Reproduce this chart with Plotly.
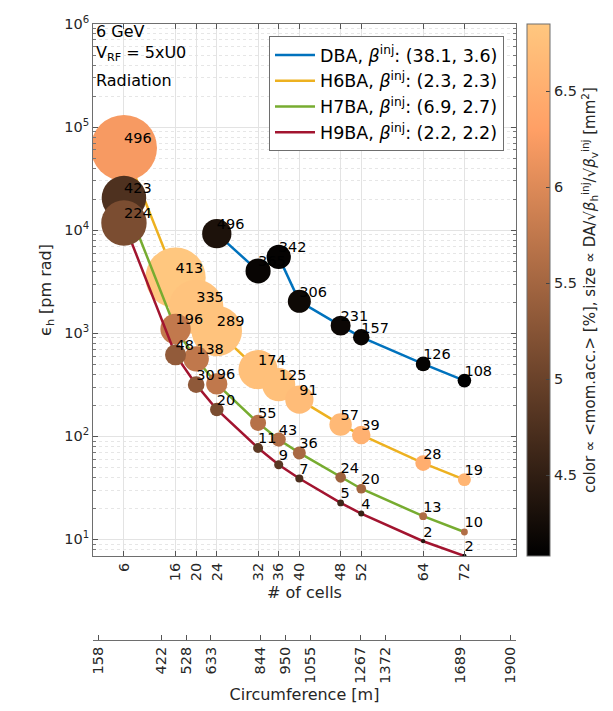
import math
import plotly.graph_objects as go

# ---------------- data ----------------
series_names = ["DBA", "H6BA", "H7BA", "H9BA"]
beta_h_inj = [38.1, 2.3, 6.9, 2.2]
beta_v_inj = [3.6, 2.3, 2.7, 2.2]
line_colors = ["#0072BD", "#EDB120", "#77AC30", "#A2142F"]

cells = [6, 16, 20, 24, 32, 36, 40, 48, 52, 64, 72]
dba_cells = [24, 32, 36, 40, 48, 52, 64, 72]

dba_emit = [9250, 4020, 5500, 2040, 1185, 915, 504, 347]
dba_da = [496, 365, 342, 306, 231, 157, 126, 108]
dba_mom = [4.33, 4.15, 4.12, 4.20, 4.18, 4.15, 4.12, 4.08]

h6_emit = [62700, 3460, 1800, 1052, 443, 317, 227, 130, 103, 55, 38]
h6_da = [496, 413, 335, 289, 174, 125, 91, 57, 39, 28, 19]
h6_mom = [6.23, 6.85, 6.80, 6.80, 6.75, 6.75, 6.70, 6.65, 6.55, 6.50, 6.60]

h7_emit = [20500, 1100, 564, 322, 135, 93, 69, 40, 31, 16.8, 11.8]
h7_da = [423, 196, 138, 96, 55, 43, 36, 24, 20, 13, 10]
h7_mom = [4.76, 5.77, 5.75, 5.75, 5.66, 5.62, 5.55, 5.45, 5.50, 5.60, 5.62]

h9_emit = [11750, 617, 317, 182, 77, 53, 39, 22.6, 17.8, 9.6, 6.9]
h9_da = [224, 48, 30, 20, 11, 9, 7, 5, 4, 2, 2]
h9_mom = [5.15, 5.35, 5.32, 5.14, 4.90, 4.85, 4.75, 4.62, 4.55, 4.40, 4.20]

cell_ticks = [6, 16, 20, 24, 32, 36, 40, 48, 52, 64, 72]
circ_ticks = [158, 422, 528, 633, 844, 950, 1055, 1267, 1372, 1689, 1900]
y_ticks = [1e1, 1e2, 1e3, 1e4, 1e5, 1e6]
y_tick_text = ["10<sup>1</sup>", "10<sup>2</sup>", "10<sup>3</sup>",
               "10<sup>4</sup>", "10<sup>5</sup>", "10<sup>6</sup>"]
cbar_ticks = [4.5, 5, 5.5, 6, 6.5]

info_lines = ["6 GeV", "V<sub>RF</sub> = 5xU0", "Radiation"]

# ---------------- figure ----------------
FONT = "DejaVu Sans"
xs = [dba_cells, cells, cells, cells]
ys = [dba_emit, h6_emit, h7_emit, h9_emit]
das = [dba_da, h6_da, h7_da, h9_da]
moms = [dba_mom, h6_mom, h7_mom, h9_mom]

all_mom = [v for m in moms for v in m]
cmin, cmax = min(all_mom), max(all_mom)

# copper colormap (MATLAB)
copper = [[0.0, "rgb(0,0,0)"], [0.8, "rgb(255,159,101)"], [1.0, "rgb(255,199,127)"]]

fig = go.Figure()
for i, name in enumerate(series_names):
    bb = math.sqrt(beta_h_inj[i] * beta_v_inj[i])
    sizes = [4.5 * math.sqrt(d / bb) for d in das[i]]
    label = f"{name}, <i>β</i><sup>inj</sup>: ({beta_h_inj[i]}, {beta_v_inj[i]})"
    fig.add_trace(go.Scatter(x=xs[i], y=ys[i], mode="lines", name=label,
                             line=dict(color=line_colors[i], width=2.5),
                             hoverinfo="skip"))
    fig.add_trace(go.Scatter(x=xs[i], y=ys[i], mode="markers", showlegend=False,
                             marker=dict(size=sizes, color=moms[i], coloraxis="coloraxis",
                                         opacity=1, line=dict(width=0))))

for i in range(4):
    fig.add_trace(go.Scatter(x=xs[i], y=[v * 1.2 for v in ys[i]], mode="text",
                             text=[str(d) for d in das[i]], textposition="middle right",
                             textfont=dict(size=14.5, color="black", family=FONT),
                             showlegend=False, hoverinfo="skip"))

# invisible trace carrying the circumference axis
fig.add_trace(go.Scatter(x=circ_ticks, y=h9_emit, xaxis="x2", mode="markers",
                         marker=dict(opacity=0), showlegend=False, hoverinfo="skip"))

L, R, T, B = 85, 105, 16, 60
W, H = 613, 711
paper_h = H - T - B
plot_bottom = 548
ydom0 = (H - B - plot_bottom) / paper_h
circ_pos = (H - B - 632) / paper_h

axis_common = dict(showline=True, linecolor="#6e6e6e", linewidth=1, mirror="ticks",
                   ticks="inside", tickcolor="#555", ticklen=5, automargin=False,
                   tickfont=dict(size=14.5, family=FONT, color="#262626"))

minor_vals = [m * 10 ** k for k in range(0, 6) for m in range(2, 10)]

fig.update_layout(
    width=W, height=H,
    margin=dict(l=L, r=R, t=T, b=B),
    paper_bgcolor="white", plot_bgcolor="white",
    font=dict(family=FONT, size=15, color="#262626"),
    xaxis=dict(range=[0, 82], tickvals=cell_ticks, ticktext=[str(c) for c in cell_ticks],
               tickangle=-90, showgrid=True, gridcolor="#e3e3e3", gridwidth=1, zeroline=False,
               title=dict(text="# of cells", font=dict(size=16), standoff=6),
               **axis_common),
    yaxis=dict(type="log", range=[math.log10(min(h9_emit)), 6], domain=[ydom0, 1],
               tickvals=y_ticks, ticktext=y_tick_text, showgrid=True, gridcolor="#e3e3e3",
               minor=dict(tickvals=minor_vals, ticks="inside", ticklen=3, tickcolor="#777",
                          showgrid=True, gridcolor="#e6e6e6", griddash="dot"),
               title=dict(text="ϵ<sub>h</sub> [pm rad]", font=dict(size=16), standoff=8),
               **axis_common),
    xaxis2=dict(overlaying="x", anchor="free", position=circ_pos, side="bottom",
                range=[134, 1925], tickvals=circ_ticks, ticktext=[str(c) for c in circ_ticks],
                tickangle=-90, showgrid=False, zeroline=False, showline=True,
                linecolor="#6e6e6e", ticks="inside", ticklen=5, tickcolor="#555",
                automargin=False, tickfont=dict(size=14.5, family=FONT, color="#262626"),
                title=dict(text="Circumference [m]", font=dict(size=16), standoff=6)),
    coloraxis=dict(colorscale=copper, cmin=cmin, cmax=cmax,
                   colorbar=dict(x=(519 - L) / (W - L - R), xanchor="left", xpad=0, ypad=0,
                                 y=1, yanchor="top", lenmode="pixels", len=plot_bottom - T,
                                 thickness=23, outlinewidth=1, outlinecolor="#6e6e6e",
                                 ticks="inside", ticklen=4, tickcolor="#444",
                                 tickvals=cbar_ticks, ticktext=[str(v) for v in cbar_ticks],
                                 tickfont=dict(size=14.5, family=FONT, color="#262626"),
                                 title=dict(text="color ∝ &lt;mom.acc.&gt; [%], size ∝ DA/√<i>β</i><sub>h</sub><sup>inj</sup>/√<i>β</i><sub>v</sub><sup>inj</sup> [mm<sup>2</sup>]",
                                            side="right", font=dict(size=15, family=FONT)))),
    legend=dict(x=(496 - L) / (W - L - R), xanchor="right", y=1 - 12 / paper_h, yanchor="top",
                bgcolor="white", bordercolor="#6e6e6e", borderwidth=1,
                font=dict(size=17.5, family=FONT, color="black"), tracegroupgap=0,
                itemwidth=40),
    showlegend=True,
)

ypix = [23, 45, 72]
for txt, yp in zip(info_lines, ypix):
    fig.add_annotation(xref="x domain", yref="y domain", x=0.002, y=1 - (yp - T) / (plot_bottom - T),
                       xanchor="left", yanchor="middle", text=txt, showarrow=False,
                       font=dict(size=16, family=FONT, color="black"))

fig.write_html("out.html")
